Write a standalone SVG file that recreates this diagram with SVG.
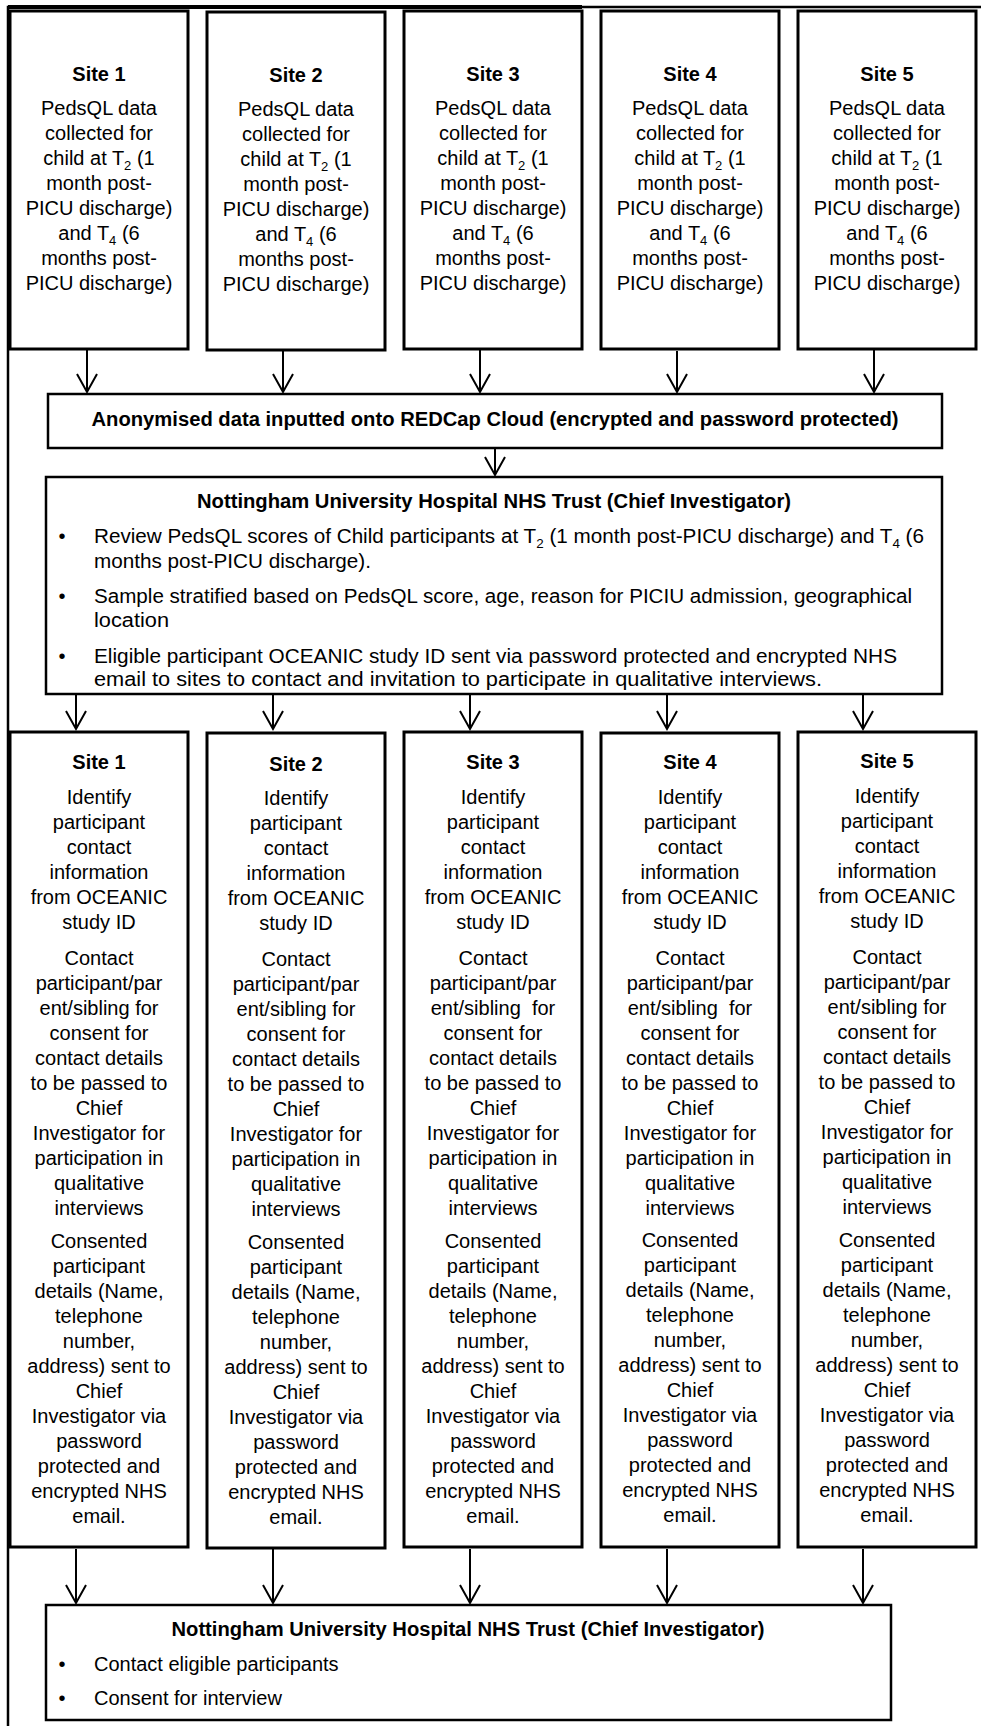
<svg xmlns="http://www.w3.org/2000/svg" width="981" height="1726" viewBox="0 0 981 1726">
<style>
.box{fill:#fff;stroke:#000;stroke-width:3}
.box2{fill:#fff;stroke:#000;stroke-width:2.5}
text{font-family:"Liberation Sans",Arial,sans-serif;font-size:20px;fill:#000}
.c{text-anchor:middle}
.b{font-weight:bold}
.sub{font-size:13px}
.conn line{stroke:#000;stroke-width:2;marker-end:url(#ah)}
.frame{fill:none;stroke:#000}
</style>
<defs>
<marker id="ah" viewBox="0 0 24 22" markerWidth="24" markerHeight="22" refX="20" refY="11" orient="auto" markerUnits="userSpaceOnUse">
<path d="M2,1 L20,11 L2,21" fill="none" stroke="#000" stroke-width="2"/>
</marker>
</defs>
<rect width="981" height="1726" fill="#fff"/>
<g id="frame">
<path class="frame" d="M8,1726 V7 H981" stroke-width="2.5"/>
<line class="frame" x1="8" y1="7" x2="582" y2="7" stroke-width="4"/>
</g>

<g id="site1top">
<rect class="box" x="10" y="11" width="178" height="338"/>
<text class="c b" x="99" y="81">Site 1</text>
<text class="c" y="115"><tspan x="99">PedsQL data</tspan><tspan x="99" dy="25">collected for</tspan><tspan x="99" dy="25">child at T<tspan class="sub" dy="5">2</tspan><tspan dy="-5"> (1</tspan></tspan><tspan x="99" dy="25">month post-</tspan><tspan x="99" dy="25">PICU discharge)</tspan><tspan x="99" dy="25">and T<tspan class="sub" dy="5">4</tspan><tspan dy="-5"> (6</tspan></tspan><tspan x="99" dy="25">months post-</tspan><tspan x="99" dy="25">PICU discharge)</tspan></text>
</g>
<g id="site2top">
<rect class="box" x="207" y="12" width="178" height="338"/>
<text class="c b" x="296" y="82">Site 2</text>
<text class="c" y="116"><tspan x="296">PedsQL data</tspan><tspan x="296" dy="25">collected for</tspan><tspan x="296" dy="25">child at T<tspan class="sub" dy="5">2</tspan><tspan dy="-5"> (1</tspan></tspan><tspan x="296" dy="25">month post-</tspan><tspan x="296" dy="25">PICU discharge)</tspan><tspan x="296" dy="25">and T<tspan class="sub" dy="5">4</tspan><tspan dy="-5"> (6</tspan></tspan><tspan x="296" dy="25">months post-</tspan><tspan x="296" dy="25">PICU discharge)</tspan></text>
</g>
<g id="site3top">
<rect class="box" x="404" y="11" width="178" height="338"/>
<text class="c b" x="493" y="81">Site 3</text>
<text class="c" y="115"><tspan x="493">PedsQL data</tspan><tspan x="493" dy="25">collected for</tspan><tspan x="493" dy="25">child at T<tspan class="sub" dy="5">2</tspan><tspan dy="-5"> (1</tspan></tspan><tspan x="493" dy="25">month post-</tspan><tspan x="493" dy="25">PICU discharge)</tspan><tspan x="493" dy="25">and T<tspan class="sub" dy="5">4</tspan><tspan dy="-5"> (6</tspan></tspan><tspan x="493" dy="25">months post-</tspan><tspan x="493" dy="25">PICU discharge)</tspan></text>
</g>
<g id="site4top">
<rect class="box" x="601" y="11" width="178" height="338"/>
<text class="c b" x="690" y="81">Site 4</text>
<text class="c" y="115"><tspan x="690">PedsQL data</tspan><tspan x="690" dy="25">collected for</tspan><tspan x="690" dy="25">child at T<tspan class="sub" dy="5">2</tspan><tspan dy="-5"> (1</tspan></tspan><tspan x="690" dy="25">month post-</tspan><tspan x="690" dy="25">PICU discharge)</tspan><tspan x="690" dy="25">and T<tspan class="sub" dy="5">4</tspan><tspan dy="-5"> (6</tspan></tspan><tspan x="690" dy="25">months post-</tspan><tspan x="690" dy="25">PICU discharge)</tspan></text>
</g>
<g id="site5top">
<rect class="box" x="798" y="11" width="178" height="338"/>
<text class="c b" x="887" y="81">Site 5</text>
<text class="c" y="115"><tspan x="887">PedsQL data</tspan><tspan x="887" dy="25">collected for</tspan><tspan x="887" dy="25">child at T<tspan class="sub" dy="5">2</tspan><tspan dy="-5"> (1</tspan></tspan><tspan x="887" dy="25">month post-</tspan><tspan x="887" dy="25">PICU discharge)</tspan><tspan x="887" dy="25">and T<tspan class="sub" dy="5">4</tspan><tspan dy="-5"> (6</tspan></tspan><tspan x="887" dy="25">months post-</tspan><tspan x="887" dy="25">PICU discharge)</tspan></text>
</g>

<g id="redcap">
<rect class="box2" x="48" y="394" width="894" height="54"/>
<text class="c b" x="495" y="426" textLength="807" lengthAdjust="spacingAndGlyphs">Anonymised data inputted onto REDCap Cloud (encrypted and password protected)</text>
</g>

<g id="nuh1">
<rect class="box2" x="46" y="477" width="896" height="217"/>
<text class="c b" x="494" y="508" textLength="594" lengthAdjust="spacingAndGlyphs">Nottingham University Hospital NHS Trust (Chief Investigator)</text>
<text class="c" x="62" y="543">•</text>
<text x="94" y="543" textLength="830" lengthAdjust="spacingAndGlyphs">Review PedsQL scores of Child participants at T<tspan class="sub" dy="5">2</tspan><tspan dy="-5"> (1 month post-PICU discharge) and T</tspan><tspan class="sub" dy="5">4</tspan><tspan dy="-5"> (6</tspan></text>
<text x="94" y="568" textLength="277" lengthAdjust="spacingAndGlyphs">months post-PICU discharge).</text>
<text class="c" x="62" y="603">•</text>
<text x="94" y="603" textLength="818" lengthAdjust="spacingAndGlyphs">Sample stratified based on PedsQL score, age, reason for PICIU admission, geographical</text>
<text x="94" y="627" textLength="75" lengthAdjust="spacingAndGlyphs">location</text>
<text class="c" x="62" y="663">•</text>
<text x="94" y="663" textLength="803" lengthAdjust="spacingAndGlyphs">Eligible participant OCEANIC study ID sent via password protected and encrypted NHS</text>
<text x="94" y="686" textLength="728" lengthAdjust="spacingAndGlyphs">email to sites to contact and invitation to participate in qualitative interviews.</text>
</g>

<g id="site1bottom">
<rect class="box" x="10" y="732" width="178" height="815"/>
<text class="c b" x="99" y="769">Site 1</text>
<text class="c" y="804"><tspan x="99">Identify</tspan><tspan x="99" dy="25">participant</tspan><tspan x="99" dy="25">contact</tspan><tspan x="99" dy="25">information</tspan><tspan x="99" dy="25">from OCEANIC</tspan><tspan x="99" dy="25">study ID</tspan></text>
<text class="c" y="965"><tspan x="99">Contact</tspan><tspan x="99" dy="25">participant/par</tspan><tspan x="99" dy="25">ent/sibling for</tspan><tspan x="99" dy="25">consent for</tspan><tspan x="99" dy="25">contact details</tspan><tspan x="99" dy="25">to be passed to</tspan><tspan x="99" dy="25">Chief</tspan><tspan x="99" dy="25">Investigator for</tspan><tspan x="99" dy="25">participation in</tspan><tspan x="99" dy="25">qualitative</tspan><tspan x="99" dy="25">interviews</tspan></text>
<text class="c" y="1248"><tspan x="99">Consented</tspan><tspan x="99" dy="25">participant</tspan><tspan x="99" dy="25">details (Name,</tspan><tspan x="99" dy="25">telephone</tspan><tspan x="99" dy="25">number,</tspan><tspan x="99" dy="25">address) sent to</tspan><tspan x="99" dy="25">Chief</tspan><tspan x="99" dy="25">Investigator via</tspan><tspan x="99" dy="25">password</tspan><tspan x="99" dy="25">protected and</tspan><tspan x="99" dy="25">encrypted NHS</tspan><tspan x="99" dy="25">email.</tspan></text>
</g>
<g id="site2bottom">
<rect class="box" x="207" y="733" width="178" height="815"/>
<text class="c b" x="296" y="771">Site 2</text>
<text class="c" y="805"><tspan x="296">Identify</tspan><tspan x="296" dy="25">participant</tspan><tspan x="296" dy="25">contact</tspan><tspan x="296" dy="25">information</tspan><tspan x="296" dy="25">from OCEANIC</tspan><tspan x="296" dy="25">study ID</tspan></text>
<text class="c" y="966"><tspan x="296">Contact</tspan><tspan x="296" dy="25">participant/par</tspan><tspan x="296" dy="25">ent/sibling for</tspan><tspan x="296" dy="25">consent for</tspan><tspan x="296" dy="25">contact details</tspan><tspan x="296" dy="25">to be passed to</tspan><tspan x="296" dy="25">Chief</tspan><tspan x="296" dy="25">Investigator for</tspan><tspan x="296" dy="25">participation in</tspan><tspan x="296" dy="25">qualitative</tspan><tspan x="296" dy="25">interviews</tspan></text>
<text class="c" y="1249"><tspan x="296">Consented</tspan><tspan x="296" dy="25">participant</tspan><tspan x="296" dy="25">details (Name,</tspan><tspan x="296" dy="25">telephone</tspan><tspan x="296" dy="25">number,</tspan><tspan x="296" dy="25">address) sent to</tspan><tspan x="296" dy="25">Chief</tspan><tspan x="296" dy="25">Investigator via</tspan><tspan x="296" dy="25">password</tspan><tspan x="296" dy="25">protected and</tspan><tspan x="296" dy="25">encrypted NHS</tspan><tspan x="296" dy="25">email.</tspan></text>
</g>
<g id="site3bottom">
<rect class="box" x="404" y="732" width="178" height="815"/>
<text class="c b" x="493" y="769">Site 3</text>
<text class="c" y="804"><tspan x="493">Identify</tspan><tspan x="493" dy="25">participant</tspan><tspan x="493" dy="25">contact</tspan><tspan x="493" dy="25">information</tspan><tspan x="493" dy="25">from OCEANIC</tspan><tspan x="493" dy="25">study ID</tspan></text>
<text class="c" y="965"><tspan x="493">Contact</tspan><tspan x="493" dy="25">participant/par</tspan><tspan x="493" dy="25">ent/sibling&#160; for</tspan><tspan x="493" dy="25">consent for</tspan><tspan x="493" dy="25">contact details</tspan><tspan x="493" dy="25">to be passed to</tspan><tspan x="493" dy="25">Chief</tspan><tspan x="493" dy="25">Investigator for</tspan><tspan x="493" dy="25">participation in</tspan><tspan x="493" dy="25">qualitative</tspan><tspan x="493" dy="25">interviews</tspan></text>
<text class="c" y="1248"><tspan x="493">Consented</tspan><tspan x="493" dy="25">participant</tspan><tspan x="493" dy="25">details (Name,</tspan><tspan x="493" dy="25">telephone</tspan><tspan x="493" dy="25">number,</tspan><tspan x="493" dy="25">address) sent to</tspan><tspan x="493" dy="25">Chief</tspan><tspan x="493" dy="25">Investigator via</tspan><tspan x="493" dy="25">password</tspan><tspan x="493" dy="25">protected and</tspan><tspan x="493" dy="25">encrypted NHS</tspan><tspan x="493" dy="25">email.</tspan></text>
</g>
<g id="site4bottom">
<rect class="box" x="601" y="733" width="178" height="814"/>
<text class="c b" x="690" y="769">Site 4</text>
<text class="c" y="804"><tspan x="690">Identify</tspan><tspan x="690" dy="25">participant</tspan><tspan x="690" dy="25">contact</tspan><tspan x="690" dy="25">information</tspan><tspan x="690" dy="25">from OCEANIC</tspan><tspan x="690" dy="25">study ID</tspan></text>
<text class="c" y="965"><tspan x="690">Contact</tspan><tspan x="690" dy="25">participant/par</tspan><tspan x="690" dy="25">ent/sibling&#160; for</tspan><tspan x="690" dy="25">consent for</tspan><tspan x="690" dy="25">contact details</tspan><tspan x="690" dy="25">to be passed to</tspan><tspan x="690" dy="25">Chief</tspan><tspan x="690" dy="25">Investigator for</tspan><tspan x="690" dy="25">participation in</tspan><tspan x="690" dy="25">qualitative</tspan><tspan x="690" dy="25">interviews</tspan></text>
<text class="c" y="1247"><tspan x="690">Consented</tspan><tspan x="690" dy="25">participant</tspan><tspan x="690" dy="25">details (Name,</tspan><tspan x="690" dy="25">telephone</tspan><tspan x="690" dy="25">number,</tspan><tspan x="690" dy="25">address) sent to</tspan><tspan x="690" dy="25">Chief</tspan><tspan x="690" dy="25">Investigator via</tspan><tspan x="690" dy="25">password</tspan><tspan x="690" dy="25">protected and</tspan><tspan x="690" dy="25">encrypted NHS</tspan><tspan x="690" dy="25">email.</tspan></text>
</g>
<g id="site5bottom">
<rect class="box" x="798" y="732" width="178" height="815"/>
<text class="c b" x="887" y="768">Site 5</text>
<text class="c" y="803"><tspan x="887">Identify</tspan><tspan x="887" dy="25">participant</tspan><tspan x="887" dy="25">contact</tspan><tspan x="887" dy="25">information</tspan><tspan x="887" dy="25">from OCEANIC</tspan><tspan x="887" dy="25">study ID</tspan></text>
<text class="c" y="964"><tspan x="887">Contact</tspan><tspan x="887" dy="25">participant/par</tspan><tspan x="887" dy="25">ent/sibling for</tspan><tspan x="887" dy="25">consent for</tspan><tspan x="887" dy="25">contact details</tspan><tspan x="887" dy="25">to be passed to</tspan><tspan x="887" dy="25">Chief</tspan><tspan x="887" dy="25">Investigator for</tspan><tspan x="887" dy="25">participation in</tspan><tspan x="887" dy="25">qualitative</tspan><tspan x="887" dy="25">interviews</tspan></text>
<text class="c" y="1247"><tspan x="887">Consented</tspan><tspan x="887" dy="25">participant</tspan><tspan x="887" dy="25">details (Name,</tspan><tspan x="887" dy="25">telephone</tspan><tspan x="887" dy="25">number,</tspan><tspan x="887" dy="25">address) sent to</tspan><tspan x="887" dy="25">Chief</tspan><tspan x="887" dy="25">Investigator via</tspan><tspan x="887" dy="25">password</tspan><tspan x="887" dy="25">protected and</tspan><tspan x="887" dy="25">encrypted NHS</tspan><tspan x="887" dy="25">email.</tspan></text>
</g>

<g id="nuh2">
<rect class="box2" x="46" y="1605" width="845" height="115"/>
<text class="c b" x="468" y="1636" textLength="593" lengthAdjust="spacingAndGlyphs">Nottingham University Hospital NHS Trust (Chief Investigator)</text>
<text class="c" x="62" y="1671">•</text>
<text x="94" y="1671">Contact eligible participants</text>
<text class="c" x="62" y="1705">•</text>
<text x="94" y="1705">Consent for interview</text>
</g>

<g id="connectors" class="conn">
<line x1="87" y1="350" x2="87" y2="392"/>
<line x1="283" y1="351" x2="283" y2="392"/>
<line x1="480" y1="350" x2="480" y2="392"/>
<line x1="677" y1="351" x2="677" y2="392"/>
<line x1="874" y1="350" x2="874" y2="392"/>
<line x1="495" y1="449" x2="495" y2="475"/>
<line x1="76" y1="695" x2="76" y2="729"/>
<line x1="273" y1="695" x2="273" y2="729"/>
<line x1="470" y1="695" x2="470" y2="729"/>
<line x1="667" y1="695" x2="667" y2="729"/>
<line x1="863" y1="695" x2="863" y2="729"/>
<line x1="76" y1="1549" x2="76" y2="1603"/>
<line x1="273" y1="1549" x2="273" y2="1603"/>
<line x1="470" y1="1549" x2="470" y2="1603"/>
<line x1="667" y1="1549" x2="667" y2="1603"/>
<line x1="863" y1="1549" x2="863" y2="1603"/>
</g>
</svg>
